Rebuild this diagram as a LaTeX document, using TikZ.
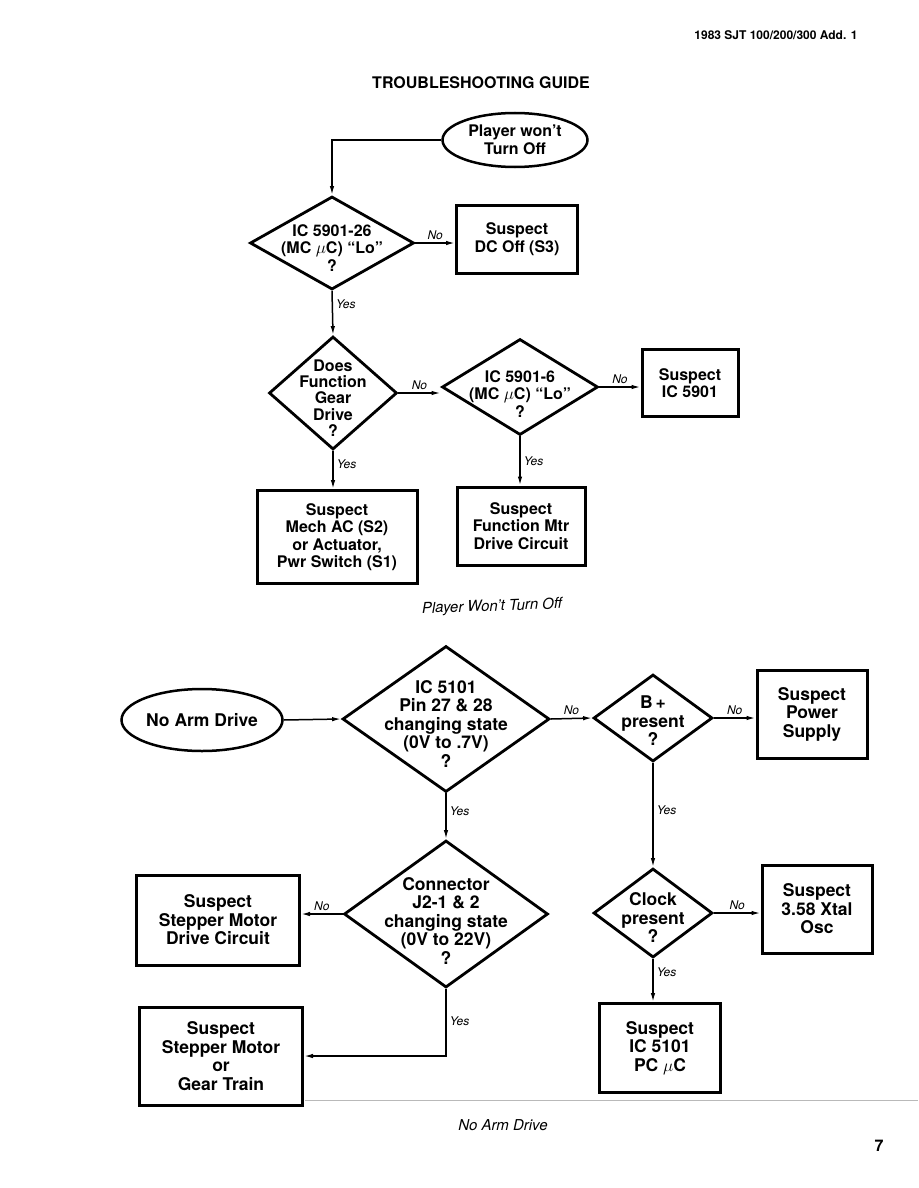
\documentclass[tikz,border=0pt]{standalone}
\usepackage{fontspec}
\setmainfont{TeX Gyre Heros}
\usetikzlibrary{shapes.geometric, arrows.meta}

\begin{document}
\begin{tikzpicture}[
    x=1pt, y=-1pt,
    upper/.style={font=\fontsize{16}{17.5}\selectfont\bfseries},
    lower/.style={font=\fontsize{17.5}{18.5}\selectfont\bfseries},
    startnode/.style={ellipse, draw, line width=2.5pt, inner sep=0pt, align=center},
    decision/.style={diamond, draw, line width=2.8pt, inner sep=0pt},
    dtext/.style={align=center},
    suspect/.style={rectangle, draw, line width=3pt, inner sep=0pt, align=center},
    arrow/.style={-{Latex[length=9pt, width=4.5pt]}, line width=1.5pt},
    lbl/.style={font=\fontsize{12}{14}\selectfont\itshape, inner sep=3pt}
]
    \useasboundingbox (0,0) rectangle (918,1188);

    % page head
    \node[font=\fontsize{12}{14}\selectfont\bfseries, anchor=east] (hdr) at (861,35) {1983 SJT 100/200/300 Add. 1};
    \node[font=\fontsize{16}{18}\selectfont\bfseries] (title) at (481,83) {TROUBLESHOOTING GUIDE};

    % player won't turn off
    \node[startnode, upper, minimum width=145pt, minimum height=54pt] (pwon) at (515,140) {Player won't\\Turn Off};
    \node[decision, minimum width=164pt, minimum height=93pt,
          label={[upper, dtext, yshift=-5pt]center:{IC 5901-26\\(MC $\mu$C) ``Lo''\\?}}] (icA) at (332,243) {};
    \node[suspect, upper, minimum width=121pt, minimum height=68pt] (dcoff) at (517,239) {Suspect\\DC Off (S3)};
    \node[decision, minimum width=128pt, minimum height=113pt,
          label={[upper, dtext, yshift=-5pt, font=\fontsize{16}{16.2}\selectfont\bfseries]center:{Does\\Function\\Gear\\Drive\\?}}] (gear) at (333,393) {};
    \node[decision, minimum width=156pt, minimum height=96pt,
          label={[upper, dtext, yshift=-7pt]center:{IC 5901-6\\(MC $\mu$C) ``Lo''\\?}}] (icB) at (520,387) {};
    \node[suspect, upper, minimum width=96pt, minimum height=67pt] (ic5901) at (690,383) {Suspect\\IC 5901};
    \node[suspect, upper, minimum width=160pt, minimum height=93pt] (mech) at (337,537) {Suspect\\Mech AC (S2)\\or Actuator,\\Pwr Switch (S1)};
    \node[suspect, upper, minimum width=128pt, minimum height=78pt] (fmtr) at (521,526) {Suspect\\Function Mtr\\Drive Circuit};

    \draw[arrow] (pwon.west) -| (icA.north);
    \draw[arrow] (icA.east) -- node[lbl, above] {No} (icA.east -| dcoff.west);
    \draw[arrow] (icA.south) -- node[lbl, right, pos=0.3] {Yes} (gear.north);
    \draw[arrow] (gear.east) -- node[lbl, above] {No} (gear.east -| icB.west);
    \draw[arrow] (icB.east) -- node[lbl, above] {No} (icB.east -| ic5901.west);
    \draw[arrow] (gear.south) -- node[lbl, right, pos=0.35] {Yes} (gear.south |- mech.north);
    \draw[arrow] (icB.south) -- node[lbl, right, pos=0.5] {Yes} (icB.south |- fmtr.north);

    \node[font=\fontsize{15}{17}\selectfont\itshape, rotate=2] (capA) at (492,607) {Player Won't Turn Off};

    % no arm drive
    \node[startnode, lower, minimum width=161pt, minimum height=62pt] (noarm) at (202,720) {No Arm Drive};
    \node[decision, minimum width=207pt, minimum height=146pt,
          label={[lower, dtext, yshift=-5pt]center:{IC 5101\\Pin 27 \& 28\\changing state\\(0V to .7V)\\?}}] (pins) at (446,719) {};
    \node[decision, minimum width=119pt, minimum height=87pt,
          label={[lower, dtext, yshift=-3pt]center:{B\,+\\present\\?}}] (bplus) at (653,718) {};
    \node[suspect, lower, minimum width=110pt, minimum height=88pt] (psu) at (812,714) {Suspect\\Power\\Supply};
    \node[decision, minimum width=119pt, minimum height=89pt,
          label={[lower, dtext, yshift=-5pt]center:{Clock\\present\\?}}] (clock) at (653,913) {};
    \node[suspect, lower, minimum width=110pt, minimum height=88pt] (xtal) at (817,909) {Suspect\\3.58 Xtal\\Osc};
    \node[suspect, lower, minimum width=121pt, minimum height=89pt] (ic5101) at (660,1048) {Suspect\\IC 5101\\PC $\mu$C};
    \node[decision, minimum width=204pt, minimum height=147pt,
          label={[lower, dtext, yshift=-7pt]center:{Connector\\J2-1 \& 2\\changing state\\(0V to 22V)\\?}}] (jconn) at (446,914) {};
    \node[suspect, lower, minimum width=163pt, minimum height=90pt] (stepdrv) at (218,920) {Suspect\\Stepper Motor\\Drive Circuit};
    \node[suspect, lower, minimum width=163pt, minimum height=98pt] (gtrain) at (221,1056) {Suspect\\Stepper Motor\\or\\Gear Train};

    \draw[arrow] (noarm.east) -- (pins.west);
    \draw[arrow] (pins.east) -- node[lbl, above] {No} (bplus.west);
    \draw[arrow] (bplus.east) -- node[lbl, above] {No} (bplus.east -| psu.west);
    \draw[arrow] (bplus.south) -- node[lbl, right, pos=0.45] {Yes} (clock.north);
    \draw[arrow] (clock.east) -- node[lbl, above] {No} (clock.east -| xtal.west);
    \draw[arrow] (clock.south) -- node[lbl, right, pos=0.3] {Yes} (clock.south |- ic5101.north);
    \draw[arrow] (pins.south) -- node[lbl, right, pos=0.4] {Yes} (jconn.north);
    \draw[arrow] (jconn.west) -- node[lbl, above] {No} (jconn.west -| stepdrv.east);
    \draw[arrow] (jconn.south) |- node[lbl, right, pos=0.24] {Yes} (gtrain.east);

    \draw[gray!55, line width=1pt] (305,1100) -- (918,1100);
    \node[font=\fontsize{15}{17}\selectfont\itshape] (capB) at (503,1125) {No Arm Drive};
    \node[font=\fontsize{16}{18}\selectfont\bfseries] (pgno) at (879,1146) {7};
\end{tikzpicture}
\end{document}
